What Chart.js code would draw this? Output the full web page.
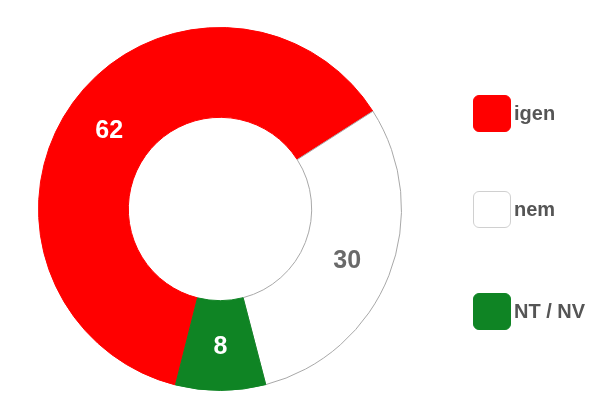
<!DOCTYPE html>
<html>
<head>
<meta charset="utf-8">
<script src="https://cdn.jsdelivr.net/npm/chart.js@4/dist/chart.umd.min.js"></script>
<style>
  html, body { margin: 0; padding: 0; background: #fff; }
  #wrap { position: relative; width: 600px; height: 412px; }
  #c { position: absolute; left: 0; top: 0; }
  .lg { position: absolute; left: 473px; display: flex; align-items: center;
        font: bold 20px "Liberation Sans", Arial, sans-serif; color: #555; }
  .lg .box { width: 38px; height: 37px; border-radius: 6px; box-sizing: border-box; margin-right: 3px; }
</style>
</head>
<body>
<div id="wrap">
  <canvas id="c" width="600" height="412"></canvas>
  <div id="legend"></div>
</div>
<script>
const categories = ['igen', 'nem', 'NT / NV'];
const values = [62, 30, 8];
const colors = ['#ff0000', '#ffffff', '#0f8424'];
const borderColors = ['#ff0000', '#a8a8a8', '#0f8424'];
const labelColors = ['#ffffff', '#6a6a6a', '#ffffff'];
const legendTops = [95, 191, 293];

const labelPlugin = {
  id: 'valueLabels',
  afterDatasetsDraw(chart) {
    const ctx = chart.ctx;
    const meta = chart.getDatasetMeta(0);
    ctx.save();
    ctx.font = 'bold 25px "Liberation Sans", Arial, sans-serif';
    ctx.textAlign = 'center';
    ctx.textBaseline = 'middle';
    meta.data.forEach((arc, i) => {
      const p = arc.tooltipPosition();
      ctx.fillStyle = labelColors[i];
      ctx.fillText(String(values[i]), p.x, p.y + 2);
    });
    ctx.restore();
  }
};

new Chart(document.getElementById('c'), {
  type: 'doughnut',
  data: {
    labels: categories,
    datasets: [{
      data: values,
      backgroundColor: colors,
      borderColor: borderColors,
      borderWidth: 1
    }]
  },
  options: {
    responsive: false,
    animation: false,
    rotation: 194.2,
    cutout: '50.5%',
    layout: { padding: { left: 37, right: 197, top: 27, bottom: 21 } },
    plugins: { legend: { display: false }, tooltip: { enabled: false } }
  },
  plugins: [labelPlugin]
});

const legend = document.getElementById('legend');
categories.forEach((name, i) => {
  const row = document.createElement('div');
  row.className = 'lg';
  row.style.top = legendTops[i] + 'px';
  const box = document.createElement('div');
  box.className = 'box';
  box.style.background = colors[i];
  box.style.border = i === 1 ? '1px solid #d0d0d0' : '1px solid ' + colors[i];
  const txt = document.createElement('span');
  txt.textContent = name;
  row.appendChild(box);
  row.appendChild(txt);
  legend.appendChild(row);
});
</script>
</body>
</html>
